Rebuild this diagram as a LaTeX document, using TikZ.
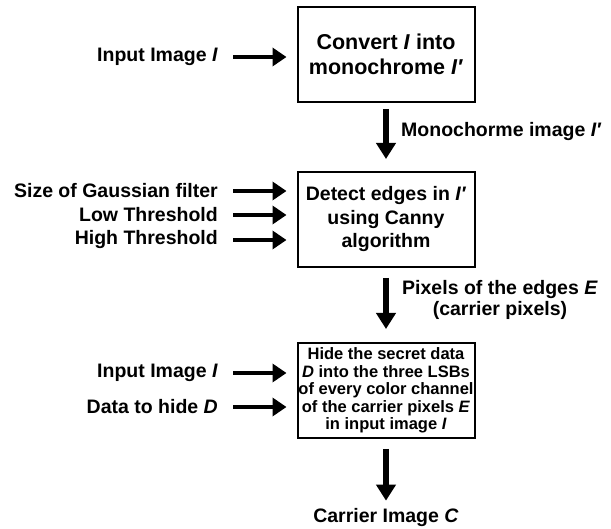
\documentclass[tikz,border=0pt]{standalone}
\usepackage{fontspec}
\setmainfont{Liberation Sans}
\usetikzlibrary{arrows.meta}
\begin{document}
\begin{tikzpicture}[x=1pt,y=-1pt,
  box/.style={draw, line width=2pt, minimum width=177pt, minimum height=95pt, inner sep=0pt, align=center, font=\bfseries\fontsize{19.5}{23.5}\selectfont},
  bigbox/.style={box, font=\bfseries\fontsize{21.5}{25}\selectfont},
  smallbox/.style={box, font=\bfseries\fontsize{16.5}{17.5}\selectfont},
  lab/.style={inner sep=0pt, anchor=east, font=\bfseries\fontsize{19.5}{20.5}\selectfont},
  harrow/.style={line width=4.5pt, -{Triangle[length=14pt,width=18pt]}, shorten <=15pt, shorten >=10pt},
  varrow/.style={line width=5.5pt, -{Triangle[length=16pt,width=19pt]}}
]
\useasboundingbox (0,0) rectangle (611,529);
\node[bigbox] (b1) at (386,54.5) {Convert \textit{I} into\\monochrome \textit{I′}};
\node[box] (b2) at (386,219.5) {Detect edges in \textit{I′}\\using Canny\\algorithm};
\node[smallbox] (b3) at (386,390.5) {Hide the secret data\\\textit{D} into the three LSBs\\of every color channel\\of the carrier pixels \textit{E}\\in input image \textit{I}};
\node[lab] (i1) at (218,57) {Input Image \textit{I}};
\node[lab] (g1) at (218,191) {Size of Gaussian filter};
\node[lab] (g2) at (218,215) {Low Threshold};
\node[lab] (g3) at (218,240) {High Threshold};
\node[lab] (i2) at (218,373) {Input Image \textit{I}};
\node[lab] (d) at (218,407) {Data to hide \textit{D}};
\node[lab, anchor=west] (m) at (401,132) {Monochorme image \textit{I′}};
\node[lab, anchor=center, align=center] (p) at (500,300) {Pixels of the edges \textit{E}\\(carrier pixels)};
\node[lab, anchor=center] (c) at (386,518) {Carrier Image \textit{C}};
\draw[harrow] (i1.east) -- (i1.east -| b1.west);
\draw[harrow] (g1.east) -- (g1.east -| b2.west);
\draw[harrow] (g2.east) -- (g2.east -| b2.west);
\draw[harrow] (g3.east) -- (g3.east -| b2.west);
\draw[harrow] (i2.east) -- (i2.east -| b3.west);
\draw[harrow] (d.east) -- (d.east -| b3.west);
\draw[varrow, shorten <=6pt, shorten >=12pt] (b1.south) -- (b2.north);
\draw[varrow, shorten <=10pt, shorten >=13pt] (b2.south) -- (b3.north);
\draw[varrow, shorten <=10pt, shorten >=8pt] (b3.south) -- (c.north);
\end{tikzpicture}
\end{document}
